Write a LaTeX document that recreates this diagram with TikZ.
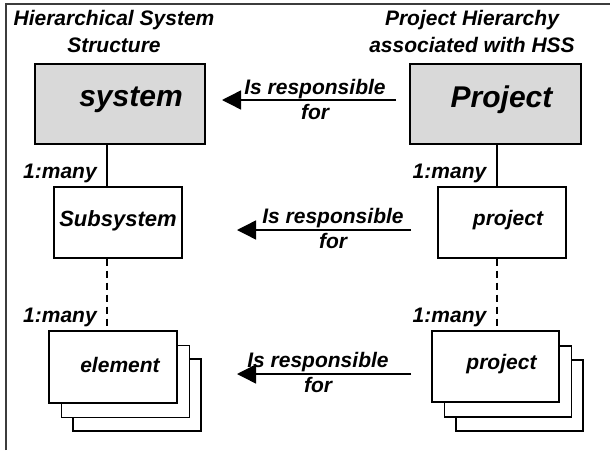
\documentclass[tikz,border=0pt]{standalone}
\usepackage{fontspec}
\setmainfont{Liberation Sans}
\usetikzlibrary{arrows.meta}
\definecolor{boxgray}{RGB}{217,217,217}
\definecolor{framegray}{RGB}{60,60,60}
\begin{document}
\begin{tikzpicture}[x=1pt,y=-1pt,
  every node/.style={font=\bfseries\itshape},
  txt/.style={font=\fontsize{21}{26}\selectfont\bfseries\itshape, inner sep=0pt},
  bigtxt/.style={font=\fontsize{30}{34}\selectfont\bfseries\itshape, inner sep=0pt},
  topbox/.style={draw, line width=1.2pt, fill=boxgray, inner sep=0pt, minimum width=170pt, minimum height=80pt},
  midbox/.style={draw, line width=1.1pt, fill=white, inner sep=0pt, minimum width=128pt, minimum height=71pt},
  conn/.style={line width=1.1pt},
  dconn/.style={line width=1.1pt, dash pattern=on 7pt off 5pt},
  resp/.style={line width=1.4pt, -{Triangle[length=19pt,width=19pt]}}
]
\useasboundingbox (0,0) rectangle (610,450);
% frame
\draw[framegray, line width=2pt] (6,450) -- (6,4) -- (612,4);

% headers
\node[txt, align=center, font=\fontsize{21}{27}\selectfont\bfseries\itshape] (hL) at (114,31) {Hierarchical System\\Structure};
\node[txt, align=center, font=\fontsize{21}{27}\selectfont\bfseries\itshape] (hR) at (472,31) {Project Hierarchy\\associated with HSS};

% top row
\node[topbox, label={[bigtxt, xshift=11pt, yshift=4pt]center:system}] (sys) at (120,104) {};
\node[topbox, minimum width=171pt, label={[bigtxt, xshift=6pt, yshift=4pt]center:Project}] (proj) at (495.5,104) {};

% middle row
\node[midbox, label={[txt, font=\fontsize{22}{26}\selectfont\bfseries\itshape, yshift=2pt]center:Subsystem}] (sub) at (118,222.5) {};
\node[midbox, label={[txt, xshift=6pt, yshift=2pt]center:project}] (pmid) at (502,222.5) {};

% bottom stacks
\node[midbox, minimum height=72pt] (el3) at (137,395) {};
\node[midbox, minimum height=72pt] (el2) at (125.5,381.5) {};
\node[midbox, minimum height=72pt, label={[txt, xshift=7pt, yshift=2pt]center:element}] (el) at (113,367) {};

\node[midbox, minimum width=127pt] (pb3) at (519.5,395.5) {};
\node[midbox, minimum width=127pt] (pb2) at (508,381.5) {};
\node[midbox, minimum width=127pt, label={[txt, xshift=6pt, yshift=2pt]center:project}] (pb) at (495.5,366.5) {};

% vertical connectors
\coordinate (cl) at (107,0);
\coordinate (cr) at (497,0);
\draw[conn] (sys.south -| cl) -- (sub.north -| cl);
\draw[conn] (proj.south -| cr) -- (pmid.north -| cr);
\draw[dconn] (sub.south -| cl) -- (el.north -| cl);
\draw[dconn] (pmid.south -| cr) -- (pb.north -| cr);

% 1:many labels
\node[txt] (m1) at (60,173) {1:many};
\node[txt] (m2) at (449.5,173) {1:many};
\node[txt] (m3) at (60,317) {1:many};
\node[txt] (m4) at (449.5,317) {1:many};

% responsibility arrows
\coordinate (a1s) at (396,100);
\coordinate (a1e) at (222,100);
\coordinate (a2s) at (411,230);
\coordinate (a2e) at (237,230);
\coordinate (a3s) at (411,374);
\coordinate (a3e) at (237,374);
\draw[resp] (a1s) -- (a1e);
\draw[resp] (a2s) -- (a2e);
\draw[resp] (a3s) -- (a3e);
\node[txt, align=center, font=\fontsize{21}{25}\selectfont\bfseries\itshape] (r1) at (315,99) {Is responsible\\for};
\node[txt, align=center, font=\fontsize{21}{25}\selectfont\bfseries\itshape] (r2) at (333,228) {Is responsible\\for};
\node[txt, align=center, font=\fontsize{21}{25}\selectfont\bfseries\itshape] (r3) at (318,372) {Is responsible\\for};
\end{tikzpicture}
\end{document}
